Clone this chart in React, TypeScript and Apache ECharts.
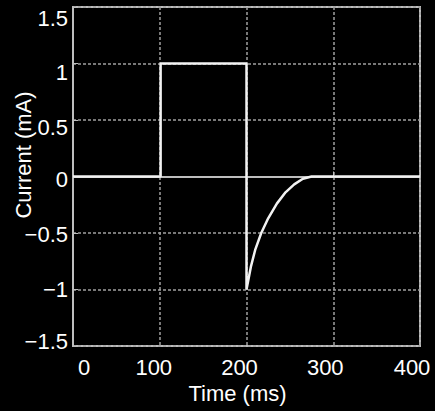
import React, { useEffect, useRef } from "react";
import * as echarts from "echarts";

const timeMs = [0, 101, 101, 200, 200, 205, 210, 217, 225, 235, 245, 255, 265, 275, 400];
const currentMA = [0, 0, 1, 1, -1, -0.8, -0.65, -0.5, -0.37, -0.24, -0.14, -0.07, -0.02, 0, 0];
const xTicks = [0, 100, 200, 300, 400];
const yTicks = [-1.5, -1, -0.5, 0, 0.5, 1, 1.5];

const FONT = "Liberation Sans";
const FS = 22;

// small per-label nudges (px) to mimic the original rendering of the tick labels
const xLabelShift: Record<string, number> = { "0": 11, "100": -6, "200": -7, "300": -8, "400": -8 };
const yLabelShift: Record<string, number> = {
  "1.5": 11,
  "1": 9,
  "0.5": 7,
  "0": 3,
  "-0.5": 1.5,
  "-1": 0,
  "-1.5": -4.5,
};

const keyOf = (v: number) => "k" + String(Math.round(v * 10) + 100);

export default function App() {
  const ref = useRef<HTMLDivElement>(null);
  useEffect(() => {
    if (!ref.current) return;
    const chart = echarts.init(ref.current, undefined, { renderer: "svg" });
    const data = timeMs.map((t, i) => [t, currentMA[i]]);

    const xRich: Record<string, any> = {};
    xTicks.forEach((v) => {
      const s = xLabelShift[String(v)] || 0;
      xRich[keyOf(v)] = {
        color: "#fff",
        fontSize: FS,
        fontFamily: FONT,
        padding: s >= 0 ? [0, 0, 0, 2 * s] : [0, -2 * s, 0, 0],
      };
    });
    const yRich: Record<string, any> = {};
    yTicks.forEach((v) => {
      const s = yLabelShift[String(v)] || 0;
      yRich[keyOf(v)] = {
        color: "#fff",
        fontSize: FS,
        fontFamily: FONT,
        padding: s >= 0 ? [2 * s, 0, 0, 0] : [0, 0, -2 * s, 0],
      };
    });

    chart.setOption({
      animation: false,
      backgroundColor: "#000",
      grid: {
        left: 73,
        right: 15,
        top: 7,
        bottom: 65,
        show: true,
        borderColor: "#bdbdbd",
        borderWidth: 2,
        backgroundColor: "#000",
      },
      xAxis: {
        type: "value",
        min: xTicks[0],
        max: xTicks[xTicks.length - 1],
        interval: 100,
        name: "Time (ms)",
        nameLocation: "middle",
        nameGap: 33,
        nameTextStyle: { color: "#fff", fontSize: FS, fontFamily: FONT, padding: [0, 18, 0, 0] },
        axisLine: { show: true, lineStyle: { color: "#bdbdbd", width: 2 } },
        axisTick: { show: true, inside: true, length: 5, lineStyle: { color: "#bdbdbd" } },
        axisLabel: {
          color: "#fff",
          fontSize: FS,
          fontFamily: FONT,
          margin: 10,
          formatter: (v: number) => `{${keyOf(v)}|${v}}`,
          rich: xRich,
        },
        splitLine: { show: true, lineStyle: { color: "#a0a0a0", type: [3, 2], width: 1.5 } },
      },
      yAxis: {
        type: "value",
        min: yTicks[0],
        max: yTicks[yTicks.length - 1],
        interval: 0.5,
        axisLine: { show: true, lineStyle: { color: "#bdbdbd", width: 2 } },
        axisTick: { show: true, inside: true, length: 5, lineStyle: { color: "#bdbdbd" } },
        axisLabel: {
          color: "#fff",
          fontSize: FS,
          fontFamily: FONT,
          margin: 5,
          formatter: (v: number) => `{${keyOf(v)}|${String(v).replace("-", "\u2212")}}`,
          rich: yRich,
        },
        splitLine: { show: true, lineStyle: { color: "#a0a0a0", type: [3, 2], width: 1.5 } },
      },
      graphic: [
        {
          type: "text",
          x: 23,
          y: 155,
          rotation: Math.PI / 2,
          style: {
            text: "Current (mA)",
            fill: "#fff",
            fontSize: FS,
            fontFamily: FONT,
            align: "center",
            verticalAlign: "middle",
          },
        },
      ],
      series: [
        {
          type: "line",
          data,
          showSymbol: false,
          symbol: "none",
          smooth: false,
          lineStyle: { color: "#f2f2f2", width: 2.5 },
          z: 5,
        },
      ],
    });
    return () => chart.dispose();
  }, []);
  return (
    <div
      ref={ref}
      style={{ position: "fixed", left: 0, top: 0, width: 435, height: 411 }}
    />
  );
}
